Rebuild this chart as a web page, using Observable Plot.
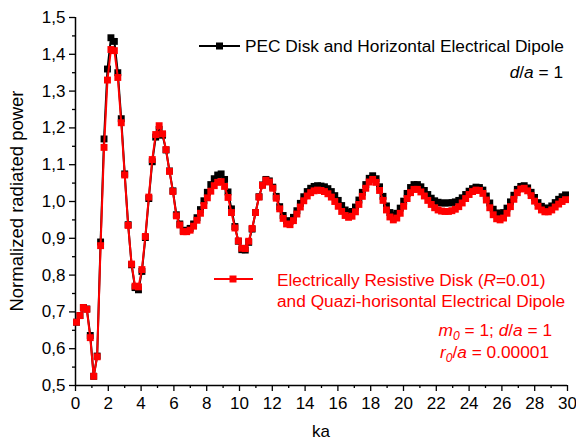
<!DOCTYPE html>
<html><head><meta charset="utf-8">
<script src="https://cdn.jsdelivr.net/npm/d3@7"></script>
<script src="https://cdn.jsdelivr.net/npm/@observablehq/plot@0.6"></script>
<style>
html,body{margin:0;padding:0;background:#fff}
#chart{width:576px;height:443px}
</style>
</head><body><div id="chart"></div>
<script>
// ---- data ----
const ka = [
 0.06,0.27,0.48,0.69,0.90,1.11,1.32,1.53,1.74,1.95,
 2.16,2.37,2.58,2.79,3.00,3.21,3.42,3.63,3.84,4.05,
 4.26,4.47,4.68,4.89,5.10,5.31,5.52,5.73,5.94,6.15,
 6.36,6.57,6.78,6.99,7.20,7.41,7.62,7.83,8.04,8.25,
 8.46,8.67,8.88,9.09,9.30,9.51,9.72,9.93,10.14,10.35,
 10.56,10.77,10.98,11.19,11.40,11.61,11.82,12.03,12.24,12.45,
 12.66,12.87,13.08,13.29,13.50,13.71,13.92,14.13,14.34,14.55,
 14.76,14.97,15.18,15.39,15.60,15.81,16.02,16.23,16.44,16.65,
 16.86,17.07,17.28,17.49,17.70,17.91,18.12,18.33,18.54,18.75,
 18.96,19.17,19.38,19.59,19.80,20.01,20.22,20.43,20.64,20.85,
 21.06,21.27,21.48,21.69,21.90,22.11,22.32,22.53,22.74,22.95,
 23.16,23.37,23.58,23.79,24.00,24.21,24.42,24.63,24.84,25.05,
 25.26,25.47,25.68,25.89,26.10,26.31,26.52,26.73,26.94,27.15,
 27.36,27.57,27.78,27.99,28.20,28.41,28.62,28.83,29.04,29.25,
 29.46,29.67,29.88
];
const pecPower = [
 0.672,0.690,0.712,0.708,0.636,0.525,0.580,0.890,1.170,1.360,
 1.445,1.435,1.350,1.225,1.075,0.937,0.828,0.766,0.760,0.810,
 0.902,1.008,1.108,1.175,1.196,1.180,1.140,1.083,1.029,0.964,
 0.939,0.921,0.922,0.927,0.939,0.956,0.978,1.002,1.025,1.046,
 1.062,1.072,1.075,1.060,1.026,0.980,0.932,0.892,0.869,0.868,
 0.889,0.925,0.970,1.013,1.045,1.060,1.056,1.039,1.014,0.986,
 0.962,0.948,0.946,0.957,0.975,0.995,1.013,1.027,1.036,1.041,
 1.043,1.042,1.040,1.035,1.027,1.016,1.003,0.989,0.977,0.970,
 0.973,0.985,1.004,1.025,1.046,1.063,1.070,1.062,1.040,1.014,
 0.988,0.970,0.963,0.968,0.982,1.001,1.022,1.038,1.046,1.046,
 1.040,1.030,1.019,1.009,1.002,0.998,0.996,0.996,0.996,0.997,
 0.999,1.003,1.010,1.019,1.028,1.035,1.039,1.038,1.031,1.015,
 0.996,0.979,0.969,0.966,0.970,0.982,0.999,1.017,1.033,1.041,
 1.043,1.037,1.025,1.011,0.997,0.987,0.982,0.982,0.988,0.997,
 1.006,1.013,1.018
];
const resistivePower = [
 0.672,0.690,0.712,0.707,0.630,0.525,0.578,0.880,1.147,1.330,
 1.413,1.410,1.337,1.214,1.072,0.935,0.830,0.770,0.768,0.815,
 0.905,1.012,1.114,1.182,1.206,1.184,1.141,1.082,1.027,0.961,
 0.936,0.918,0.918,0.922,0.933,0.949,0.968,0.989,1.010,1.028,
 1.043,1.052,1.054,1.041,1.011,0.970,0.928,0.893,0.873,0.872,
 0.892,0.927,0.970,1.012,1.044,1.058,1.053,1.036,1.009,0.980,
 0.954,0.939,0.937,0.948,0.966,0.985,1.002,1.015,1.024,1.029,
 1.031,1.030,1.027,1.021,1.012,1.000,0.987,0.973,0.962,0.957,
 0.960,0.972,0.992,1.014,1.036,1.053,1.060,1.052,1.030,1.003,
 0.977,0.958,0.950,0.955,0.968,0.987,1.008,1.024,1.033,1.033,
 1.026,1.015,1.003,0.992,0.983,0.977,0.974,0.973,0.973,0.975,
 0.979,0.986,0.996,1.008,1.019,1.027,1.031,1.030,1.022,1.004,
 0.983,0.964,0.953,0.950,0.955,0.968,0.986,1.006,1.024,1.034,
 1.036,1.029,1.016,1.001,0.987,0.977,0.972,0.972,0.977,0.985,
 0.993,1.000,1.005
];
const xTicks = [0,2,4,6,8,10,12,14,16,18,20,22,24,26,28,30];
const xMinorTicks = [1,3,5,7,9,11,13,15,17,19,21,23,25,27,29];
const yTicks = [0.5,0.6,0.7,0.8,0.9,1.0,1.1,1.2,1.3,1.4,1.5];
const yMinorTicks = [0.55,0.65,0.75,0.85,0.95,1.05,1.15,1.25,1.35,1.45];
const xLabel = "ka";
const yLabel = "Normalized radiated power";

// ---- chart ----
const rows = ka.map((k, i) => ({ka: k, pec: pecPower[i], res: resistivePower[i]}));
const fmt = d => d.toFixed(1).replace(".", ",");
const FONT = "'Liberation Sans', Arial, sans-serif";
const LS = 17.3; // legend font size

function addText(g, x, y, parts, anchor, color, size) {
  const t = g.append("text").attr("x", x).attr("y", y)
    .attr("text-anchor", anchor).attr("fill", color)
    .attr("font-size", size).attr("font-family", FONT);
  for (const p of parts) {
    const s = t.append("tspan").text(p.t);
    if (p.i) s.attr("font-style", "italic");
    if (p.sub) s.attr("font-size", size * 0.7).attr("dy", 4);
    if (p.up) s.attr("dy", -4);
  }
  return t;
}

const legend = () => {
  const g = d3.create("svg:g");
  // axis titles
  addText(g, 0, 0, [{t: yLabel}], "middle", "black", 18.5)
    .attr("transform", "translate(23,201) rotate(-90)");
  addText(g, 321, 437, [{t: xLabel}], "middle", "black", 17);
  // black entry
  g.append("line").attr("x1", 199).attr("x2", 240).attr("y1", 46).attr("y2", 46)
    .attr("stroke", "black").attr("stroke-width", 2);
  g.append("rect").attr("x", 216).attr("y", 42.5).attr("width", 7).attr("height", 7).attr("fill", "black");
  addText(g, 245, 52, [{t: "PEC Disk and Horizontal Electrical Dipole"}], "start", "black", LS);
  addText(g, 563, 78, [{t: "d", i: 1}, {t: "/"}, {t: "a", i: 1}, {t: " = 1"}], "end", "black", LS);
  // red entry
  g.append("line").attr("x1", 214).attr("x2", 253).attr("y1", 279).attr("y2", 279)
    .attr("stroke", "red").attr("stroke-width", 2);
  g.append("rect").attr("x", 229.5).attr("y", 275.5).attr("width", 7).attr("height", 7).attr("fill", "red");
  addText(g, 277, 286, [{t: "Electrically Resistive Disk ("}, {t: "R", i: 1}, {t: "=0.01)"}], "start", "red", LS);
  addText(g, 277, 307, [{t: "and Quazi-horisontal Electrical Dipole"}], "start", "red", LS);
  addText(g, 552, 336, [{t: "m", i: 1}, {t: "0", i: 1, sub: 1}, {t: " = 1; ", up: 1}, {t: "d", i: 1}, {t: "/"}, {t: "a", i: 1}, {t: " = 1"}], "end", "red", LS);
  addText(g, 549, 358, [{t: "r", i: 1}, {t: "0", i: 1, sub: 1}, {t: "/", up: 1}, {t: "a", i: 1}, {t: " = 0.00001"}], "end", "red", LS);
  return g.node();
};

const chart = Plot.plot({
  width: 576,
  height: 443,
  marginLeft: 75,
  marginRight: 9,
  marginTop: 17,
  marginBottom: 58,
  style: {fontFamily: FONT, fontSize: "17px", color: "black", background: "white", overflow: "visible"},
  x: {domain: [0, 30]},
  y: {domain: [0.5, 1.5]},
  marks: [
    Plot.axisX({ticks: xMinorTicks, tickSize: 3, tickFormat: () => "", label: null, strokeWidth: 1.3}),
    Plot.axisY({ticks: yMinorTicks, tickSize: 3, tickFormat: () => "", label: null, strokeWidth: 1.3}),
    Plot.axisX({ticks: xTicks, tickSize: 6, tickPadding: 5, tickFormat: d => String(d), strokeWidth: 1.3, label: null}),
    Plot.axisY({ticks: yTicks, tickSize: 6, tickPadding: 4, tickFormat: fmt, strokeWidth: 1.3, label: null}),
    Plot.ruleX([0], {strokeWidth: 1.5}),
    Plot.ruleY([0.5], {strokeWidth: 1.5}),
    Plot.line(rows, {x: "ka", y: "pec", stroke: "black", strokeWidth: 2}),
    Plot.dot(rows, {x: "ka", y: "pec", symbol: "square", fill: "black", r: 3.9}),
    Plot.line(rows, {x: "ka", y: "res", stroke: "red", strokeWidth: 2}),
    Plot.dot(rows, {x: "ka", y: "res", symbol: "square", fill: "red", r: 3.9}),
    legend
  ]
});
document.getElementById("chart").appendChild(chart);
</script>
</body></html>
